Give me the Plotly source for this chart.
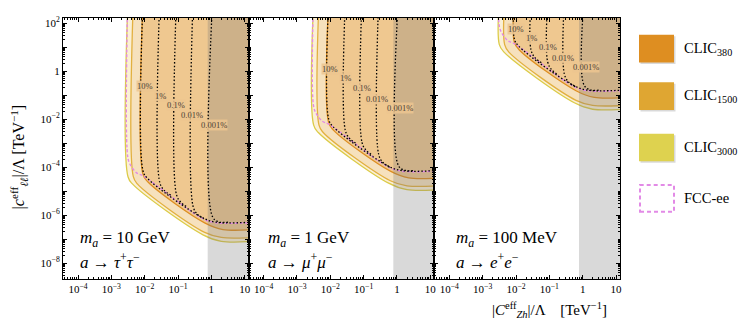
import plotly.graph_objects as go
from plotly.subplots import make_subplots

FONT = "Liberation Serif"

# All curve coordinates are log10 values.
# x = |C_Zh^eff|/Lambda, y = |c_ll^eff|/Lambda   [TeV^-1]
panels = ["tau", "mu", "e"]
mass_labels = ["10 GeV", "1 GeV", "100 MeV"]
decay_labels = [
    "<i>τ</i><sup>+</sup><i>τ</i><sup>−</sup>",
    "<i>μ</i><sup>+</sup><i>μ</i><sup>−</sup>",
    "<i>e</i><sup>+</sup><i>e</i><sup>−</sup>",
]

# CLIC sensitivity boundaries (x nodes shared by the three panels)
clic3000_x = [-2.50, -2.50, -2.36, -0.25, 0.30, 1.5, 3.0, 3.0]
clic3000_y = {
    "tau": [3.0, -4.40, -4.71, -6.82, -7.09, -7.09, -7.09, 3.0],
    "mu":  [3.0, -2.25, -2.56, -4.67, -4.94, -4.94, -4.94, 3.0],
    "e":   [3.0, 1.10, 0.79, -1.32, -1.59, -1.59, -1.59, 3.0],
}
clic1500_x = [-2.34, -2.34, -2.22, -0.20, 0.30, 1.5, 3.0, 3.0]
clic1500_y = {
    "tau": [3.0, -4.40, -4.70, -6.72, -6.93, -6.93, -6.93, 3.0],
    "mu":  [3.0, -2.25, -2.55, -4.57, -4.78, -4.78, -4.78, 3.0],
    "e":   [3.0, 1.10, 0.80, -1.22, -1.43, -1.43, -1.43, 3.0],
}
clic380_x = [-2.05, -2.05, -1.90, -0.20, 0.35, 1.5, 3.0, 3.0]
clic380_y = {
    "tau": [3.0, -4.30, -4.62, -6.32, -6.60, -6.60, -6.60, 3.0],
    "mu":  [3.0, -2.15, -2.47, -4.17, -4.45, -4.45, -4.45, 3.0],
    "e":   [3.0, 1.20, 0.88, -0.82, -1.10, -1.10, -1.10, 3.0],
}

# FCC-ee boundary
fcc_x = [-2.51, -2.51, -2.44, -2.24, -2.05, -0.30, 0.10, 1.5, 3.0]
fcc_y = {
    "tau": [3.0, -3.55, -3.88, -4.24, -4.36, -6.11, -6.31, -6.31, -6.31],
    "mu":  [3.0, -1.40, -1.73, -2.09, -2.21, -3.96, -4.16, -4.16, -4.16],
    "e":   [3.0, 1.95, 1.62, 1.26, 1.14, -0.61, -0.81, -0.81, -0.81],
}

# BR(h -> Za) contours; the 10% one carries the common lower edge,
# the others stop where they join it
br_labels = ["10%", "1%", "0.1%", "0.01%", "0.001%"]
br_x = [
    [-2.05, -2.05, -1.92, -0.30, 0.12, 1.5, 3.0],
    [-1.55, -1.55, -1.42, -1.20],
    [-1.05, -1.05, -0.92, -0.72],
    [-0.55, -0.55, -0.42, -0.22],
    [0.04, 0.04, 0.25, 0.50],
]
br_y = {
    "tau": [
        [3.0, -4.15, -4.46, -6.08, -6.29, -6.29, -6.29],
        [3.0, -4.62, -4.96, -5.18],
        [3.0, -5.12, -5.46, -5.66],
        [3.0, -5.62, -5.96, -6.15],
        [3.0, -6.08, -6.29, -6.29],
    ],
    "mu": [
        [3.0, -2.00, -2.31, -3.93, -4.14, -4.14, -4.14],
        [3.0, -2.47, -2.81, -3.03],
        [3.0, -2.97, -3.31, -3.51],
        [3.0, -3.47, -3.81, -4.00],
        [3.0, -3.93, -4.14, -4.14],
    ],
    "e": [
        [3.0, 1.35, 1.04, -0.58, -0.79, -0.79, -0.79],
        [3.0, 0.88, 0.54, 0.32],
        [3.0, 0.38, 0.04, -0.16],
        [3.0, -0.12, -0.46, -0.65],
        [3.0, -0.58, -0.79, -0.79],
    ],
}
br_label_x = [-2.00, -1.54, -1.05, -0.59, 0.09]
br_label_y = {
    "tau": [-0.63, -1.05, -1.42, -1.83, -2.24],
    "mu":  [0.08, -0.30, -0.69, -1.16, -1.54],
    "e":   [1.77, 1.38, 1.01, 0.53, 0.15],
}

# excluded region (grey band), log10 of lower x edge
grey_xmin = -0.11

x_range = [-4.45, 1.12]
y_range = [-8.66, 2.21]

# colours
C380, C1500, C3000, CFCC = "#DE8E21", "#DFA632", "#DED24F", "#E28AE6"
styles = [
    ("CLIC3000", clic3000_x, clic3000_y, "#FBF0D6", "#DCCB48"),
    ("CLIC1500", clic1500_x, clic1500_y, "#F6E1BD", "#E2B040"),
    ("CLIC380", clic380_x, clic380_y, "#EFC890", "#DE8E21"),
]


def pw(v):
    return [10.0 ** t for t in v]


fig = make_subplots(rows=1, cols=3, horizontal_spacing=0)

for i, p in enumerate(panels):
    col = i + 1
    for name, xs, ys, fillc, linec in styles:
        fig.add_trace(go.Scatter(
            x=pw(xs), y=pw(ys[p]), mode="lines", fill="toself", fillcolor=fillc,
            line=dict(color=linec, width=1.3, shape="spline", smoothing=1),
            hoverinfo="skip", showlegend=False), row=1, col=col)

    fig.add_trace(go.Scatter(
        x=pw([grey_xmin, 3.0, 3.0, grey_xmin]), y=pw([-12, -12, 3.0, 3.0]),
        mode="lines", fill="toself", fillcolor="rgba(120,120,120,0.28)",
        line=dict(width=0), hoverinfo="skip", showlegend=False), row=1, col=col)

    fig.add_trace(go.Scatter(
        x=pw(fcc_x), y=pw(fcc_y[p]), mode="lines",
        line=dict(color=CFCC, width=1.4, dash="3px,2px", shape="spline", smoothing=1),
        hoverinfo="skip", showlegend=False), row=1, col=col)

    for xs, ys in zip(br_x, br_y[p]):
        fig.add_trace(go.Scatter(
            x=pw(xs), y=pw(ys), mode="lines",
            line=dict(color="black", width=1.3, dash="1.5px,2px", shape="spline", smoothing=1),
            hoverinfo="skip", showlegend=False), row=1, col=col)

    xref = "x" if col == 1 else f"x{col}"
    yref = "y" if col == 1 else f"y{col}"
    for lab, lx, ly in zip(br_labels, br_label_x, br_label_y[p]):
        fig.add_annotation(x=lx, y=ly, xref=xref, yref=yref, text=lab, showarrow=False,
                           xanchor="center", yanchor="middle",
                           font=dict(family=FONT, size=8.5, color="#4a4035"),
                           bgcolor="rgba(236,198,144,0.85)", borderpad=0)

# axes
xt_vals = [1e-4, 1e-3, 1e-2, 1e-1, 1, 10]
xt_text = ["10<sup>−4</sup>", "10<sup>−3</sup>", "10<sup>−2</sup>", "10<sup>−1</sup>", "1", "10"]
yt_vals = [10.0 ** k for k in range(-8, 3)]
yt_text = [("1" if k == 0 else f"10<sup>{'−' if k < 0 else ''}{abs(k)}</sup>") if k % 2 == 0 else ""
           for k in range(-8, 3)]

axis_common = dict(type="log", showgrid=False, zeroline=False, showline=True,
                   linecolor="black", linewidth=1, mirror="allticks", ticks="inside",
                   ticklen=4, tickwidth=1, tickcolor="black",
                   tickfont=dict(family=FONT, size=11, color="black"),
                   minor=dict(ticks="inside", ticklen=2, tickwidth=0.8, tickcolor="black", dtick="D1"))

for col in range(1, 4):
    fig.update_xaxes(range=x_range, tickvals=xt_vals, ticktext=xt_text, **axis_common, row=1, col=col)
    fig.update_yaxes(range=y_range, tickvals=yt_vals, ticktext=yt_text,
                     showticklabels=(col == 1), **axis_common, row=1, col=col)

# layout: the page adds an 8px body margin, so the figure is drawn 8px
# smaller and the margins are trimmed to keep the plot where it belongs
OFF = 8
L, R, T, B, W, H = 55, 127, 7, 49, 739, 320
PW, PH = W - L - R, H - T - B


def px(xp):
    return (xp - OFF - L) / PW


def py(yp):
    return (H - B - (yp - OFF)) / PH


def note(x, y, text, size, **kw):
    fig.add_annotation(x=px(x), y=py(y), xref="paper", yref="paper", text=text,
                       showarrow=False, yanchor="middle",
                       font=dict(family=FONT, size=size, color="black"), **kw)


for i in range(3):
    x0 = [78, 266, 454][i]
    note(x0, 239, f"<i>m</i><sub><i>a</i></sub> = {mass_labels[i]}", 17, xanchor="left")
    note(x0, 261, f"<i>a</i> → {decay_labels[i]}", 17, xanchor="left")

# axis titles
note(549, 310, "|<i>C</i><sup>eff</sup><sub><i>Zh</i></sub>|/Λ    [TeV<sup>−1</sup>]", 15,
     xanchor="center")
note(19, 156, "|<i>c</i><sup>eff</sup><sub><i>ℓℓ</i></sub>|/Λ [TeV<sup>−1</sup>]", 16,
     xanchor="center", textangle=-90)

# legend
legend_items = [("CLIC<sub>380</sub>", C380, 32), ("CLIC<sub>1500</sub>", C1500, 80),
                ("CLIC<sub>3000</sub>", C3000, 132), ("FCC-ee", None, 183)]
for text, colr, top in legend_items:
    if colr:
        fig.add_shape(type="rect", xref="paper", yref="paper",
                      x0=px(640.5), x1=px(675.5), y0=py(top + 29.5), y1=py(top + 1.5),
                      fillcolor="rgba(0,0,0,0.15)", line=dict(width=0))
        fig.add_shape(type="rect", xref="paper", yref="paper",
                      x0=px(639), x1=px(674), y0=py(top + 28), y1=py(top),
                      fillcolor=colr, line=dict(width=0))
    else:
        fig.add_shape(type="rect", xref="paper", yref="paper",
                      x0=px(640), x1=px(674), y0=py(top + 28), y1=py(top + 1),
                      fillcolor="rgba(0,0,0,0)", line=dict(color=CFCC, width=2, dash="4px,3px"))
    note(682, top + 14, text, 14.5, xanchor="left")

fig.update_layout(width=W, height=H, margin=dict(l=L, r=R, t=T, b=B),
                  paper_bgcolor="white", plot_bgcolor="white", showlegend=False,
                  font=dict(family=FONT, color="black"))

fig.write_html("out.html")
